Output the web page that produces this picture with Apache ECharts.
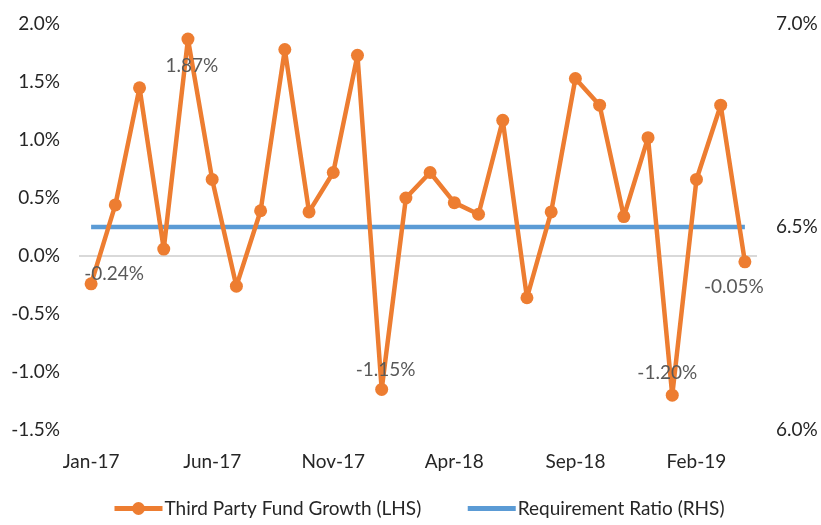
<!DOCTYPE html>
<html>
<head>
<meta charset="utf-8">
<script src="https://cdn.jsdelivr.net/npm/echarts@6/dist/echarts.min.js"></script>
<style>
  html, body { margin: 0; padding: 0; background: #fff; }
  #chart { width: 821px; height: 525px; }
</style>
</head>
<body>
<div id="chart"></div>
<script>
const months = [
  'Jan-17', 'Feb-17', 'Mar-17', 'Apr-17', 'May-17', 'Jun-17', 'Jul-17', 'Aug-17', 'Sep-17', 'Oct-17',
  'Nov-17', 'Dec-17', 'Jan-18', 'Feb-18', 'Mar-18', 'Apr-18', 'May-18', 'Jun-18', 'Jul-18', 'Aug-18',
  'Sep-18', 'Oct-18', 'Nov-18', 'Dec-18', 'Jan-19', 'Feb-19', 'Mar-19', 'Apr-19'
];
const fundGrowth = [
  -0.24, 0.44, 1.45, 0.06, 1.87, 0.66, -0.26, 0.39, 1.78, 0.38,
  0.72, 1.73, -1.15, 0.50, 0.72, 0.46, 0.36, 1.17, -0.36, 0.38,
  1.53, 1.30, 0.34, 1.02, -1.20, 0.66, 1.30, -0.05
];
const reqRatio = [
  6.5, 6.5, 6.5, 6.5, 6.5, 6.5, 6.5, 6.5, 6.5, 6.5,
  6.5, 6.5, 6.5, 6.5, 6.5, 6.5, 6.5, 6.5, 6.5, 6.5,
  6.5, 6.5, 6.5, 6.5, 6.5, 6.5, 6.5, 6.5
];
const leftTicks = [-1.5, 2.0, 0.5];   // min, max, step
const rightTicks = [6.0, 7.0, 0.5];

// which points carry a value label, and where it sits relative to the point
const labelOffsets = {
  0: [23, -10],
  4: [4, 27],
  12: [4, -20],
  24: [-5, -22],
  27: [-11, 25]
};

const FONT = 'Lato';
const FS = 19;
const chart = echarts.init(document.getElementById('chart'));

const growthData = fundGrowth.map((v, i) => {
  if (!labelOffsets[i]) return v;
  return {
    value: v,
    label: {
      show: true,
      position: 'inside',
      offset: labelOffsets[i],
      formatter: (p) => p.value.toFixed(2) + '%',
      color: '#595959',
      fontSize: FS,
      fontFamily: FONT
    }
  };
});

const tickLabel = {
  margin: 19,
  fontSize: FS,
  color: '#262626',
  fontFamily: FONT,
  formatter: (v) => v.toFixed(1) + '%'
};

chart.setOption({
  animation: false,
  backgroundColor: '#fff',
  textStyle: { fontFamily: FONT },
  grid: { left: 79, right: 64, top: 24, bottom: 95 },
  legend: {
    bottom: 2,
    left: 107,
    itemWidth: 48,
    itemHeight: 16,
    itemGap: 44,
    textStyle: { fontSize: FS, color: '#262626', fontFamily: FONT, padding: [0, 0, 0, -3] },
    data: [
      { name: 'Third Party Fund Growth (LHS)', lineStyle: { width: 5 } },
      { name: 'Requirement Ratio (RHS)', lineStyle: { width: 5 }, itemStyle: { opacity: 0 } }
    ]
  },
  xAxis: {
    type: 'category',
    data: months,
    boundaryGap: true,
    axisLine: { show: false, onZero: false },
    axisTick: { show: false },
    axisLabel: {
      interval: 4,
      margin: 22,
      fontSize: FS,
      color: '#262626',
      fontFamily: FONT
    }
  },
  yAxis: [
    {
      type: 'value',
      min: leftTicks[0],
      max: leftTicks[1],
      interval: leftTicks[2],
      axisLine: { show: false },
      axisTick: { show: false },
      splitLine: { show: false },
      axisLabel: tickLabel
    },
    {
      type: 'value',
      position: 'right',
      min: rightTicks[0],
      max: rightTicks[1],
      interval: rightTicks[2],
      axisLine: { show: false },
      axisTick: { show: false },
      splitLine: { show: false },
      axisLabel: tickLabel
    }
  ],
  series: [
    {
      name: 'Third Party Fund Growth (LHS)',
      type: 'line',
      yAxisIndex: 0,
      data: growthData,
      symbol: 'circle',
      symbolSize: 13,
      z: 3,
      itemStyle: { color: '#ED7D31' },
      lineStyle: { color: '#ED7D31', width: 4.5 },
      label: { show: false },
      markLine: {
        silent: true,
        symbol: 'none',
        z: 1,
        label: { show: false },
        lineStyle: { color: '#d9d9d9', width: 2, type: 'solid' },
        data: [{ yAxis: 0 }]
      }
    },
    {
      name: 'Requirement Ratio (RHS)',
      type: 'line',
      yAxisIndex: 1,
      data: reqRatio,
      symbol: 'none',
      z: 2,
      itemStyle: { color: '#5B9BD5' },
      lineStyle: { color: '#5B9BD5', width: 4.5 }
    }
  ]
});
</script>
</body>
</html>
